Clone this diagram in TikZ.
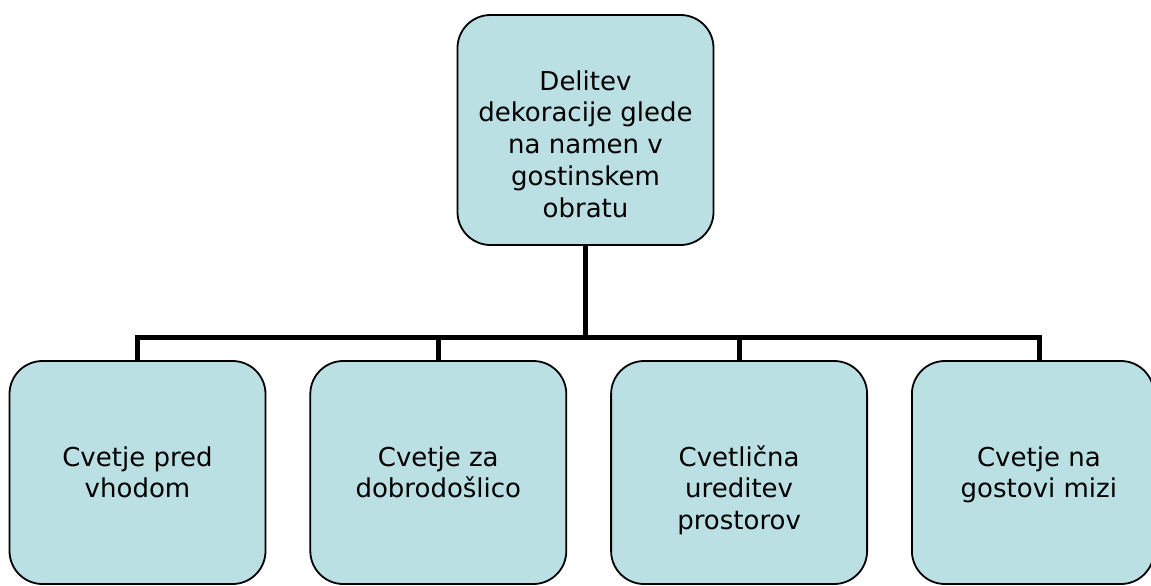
\documentclass[tikz,border=0pt]{standalone}
\usepackage{fontspec}
\setmainfont{DejaVu Sans}
\usepackage{tikz}
\usetikzlibrary{positioning}
\definecolor{boxfill}{HTML}{BBE0E3}
\tikzset{ x=1pt, y=1pt,
  box/.style={draw, line width=1.8pt, fill=boxfill, rounded corners=33pt, minimum width=256pt, minimum height=#1, inner sep=0pt, font=\fontsize{26}{31.8}\selectfont},
  box/.default=223pt,
  conn/.style={line width=5pt} }
\def\myW{299}
% first baseline sits #1 above the box centre
\newcommand\lbl[2]{\raisebox{#1}[0pt][0pt]{\parbox[t]{230pt}{\centering #2}}}

\begin{document}
\begin{tikzpicture}
\useasboundingbox (0,0) rectangle (1151,-586);
\clip (0,0) rectangle (1151,-586);
\node[box=230pt] (top) at (585.5,-130) {\lbl{40pt}{Delitev\\ dekoracije glede\\ na namen v\\ gostinskem\\ obratu}};
\node[box] (b1) at (137.5,-472.5) {\lbl{6.5pt}{Cvetje pred\\ vhodom}};
\node[box, right=\myW-256 of b1] (b2) {\lbl{6.5pt}{Cvetje za\\ dobrodošlico}};
\node[box, right=\myW-256 of b2] (b3) {\lbl{6.5pt}{Cvetlična\\ ureditev\\ prostorov}};
\node[box, minimum width=242pt, right=\myW-256 of b3] (b4) {\hspace*{12pt}\lbl{6.5pt}{Cvetje na\\ gostovi mizi}};
\draw[conn] (top.south) -- ++(0,-92) coordinate (hub);
\foreach \b in {b1,b2,b3}
  \draw[conn] (hub) -| (\b.north);
\draw[conn] (hub) -| ([xshift=7pt]b4.north);
\end{tikzpicture}
\end{document}
